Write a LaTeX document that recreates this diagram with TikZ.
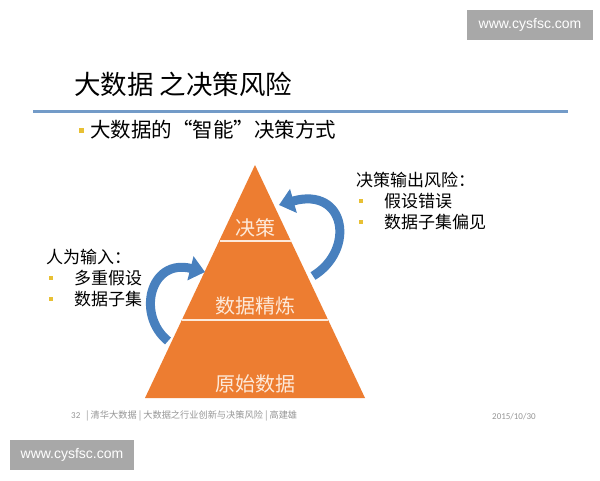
\documentclass[tikz,border=0pt]{standalone}
\usepackage{fontspec}
\newfontfamily\cjk{Noto Sans CJK SC}
\newfontfamily\wmfont{Liberation Sans}
\newfontfamily\numfont{Carlito}
\usetikzlibrary{arrows.meta}
\definecolor{pyrorange}{RGB}{237,125,49}
\definecolor{pyrtext}{RGB}{253,233,217}
\definecolor{titleblue}{RGB}{115,155,200}
\definecolor{bulletyellow}{RGB}{232,192,52}
\definecolor{arrowblue}{RGB}{72,128,190}
\definecolor{footgray}{RGB}{150,150,150}
\definecolor{wmgray}{RGB}{168,168,168}
\tikzset{
  pyrlabel/.style={text=pyrtext, font=\cjk\fontsize{20}{24}\selectfont, inner sep=0pt},
  bodytext/.style={anchor=west, inner sep=0pt, font=\cjk\fontsize{17}{20}\selectfont},
  bulletbox/.style={fill=bulletyellow, minimum size=4pt, inner sep=0pt},
  curvearrow/.style={draw=arrowblue, line width=9pt, -{Triangle[width=24pt,length=15pt]}},
  wmbox/.style={fill=wmgray, text=white, minimum width=126pt, minimum height=30pt, inner sep=0pt, font=\wmfont\fontsize{14}{16}\selectfont},
  sepline/.style={draw=pyrtext, line width=1.2pt}
}
\begin{document}
\begin{tikzpicture}[x=1pt,y=-1pt]
\useasboundingbox[fill=white] (0,0) rectangle (600,480);
% watermarks
\node[wmbox] (wm1) at (530,25) {www.cysfsc.com};
\node[wmbox, minimum width=124pt] (wm2) at (72,455) {www.cysfsc.com};
% title
\node[anchor=west, inner sep=0pt, font=\cjk\fontsize{26.5}{30}\selectfont] (title) at (74,84) {大数据 之决策风险};
\coordinate (tl1) at (33,111);
\coordinate (tl2) at (568,111);
\draw[titleblue, line width=3pt] (tl1) -- (tl2);
% main bullet
\node[bulletbox, minimum size=5pt] (b0) at (81,130) {};
\node[anchor=west, inner sep=0pt, font=\cjk\fontsize{20.5}{24}\selectfont] (sub) at (90,130) {大数据的“智能”决策方式};
% pyramid
\coordinate (apex) at (255,165);
\coordinate (bl) at (145,398);
\coordinate (br) at (365,398);
\fill[pyrorange] (apex) -- (br) -- (bl) -- cycle;
\coordinate (s1l) at (219.5,241);
\coordinate (s1r) at (290.5,241);
\coordinate (s2l) at (182,320);
\coordinate (s2r) at (328,320);
\draw[sepline] (s1l) -- (s1r);
\draw[sepline] (s2l) -- (s2r);
\node[pyrlabel] (p1) at (255,228) {决策};
\node[pyrlabel] (p2) at (255,306) {数据精炼};
\node[pyrlabel] (p3) at (255,384) {原始数据};
% arrows
\coordinate (rt) at (313,276);
\coordinate (rh) at (279,205);
\draw[curvearrow] (rt) .. controls (356,250) and (346,186) .. (rh);
\coordinate (lt) at (168,341);
\coordinate (lh) at (205,272);
\draw[curvearrow] (lt) .. controls (136,315) and (150,258) .. (lh);
% right block
\node[bodytext] (rhead) at (356,180) {决策输出风险：};
\node[bulletbox] (rb1) at (361,201) {};
\node[bodytext] (r1) at (384,201) {假设错误};
\node[bulletbox] (rb2) at (361,222) {};
\node[bodytext] (r2) at (384,222) {数据子集偏见};
% left block
\node[bodytext] (lhead) at (46,257) {人为输入：};
\node[bulletbox] (lb1) at (51,278) {};
\node[bodytext] (l1) at (74,278) {多重假设};
\node[bulletbox] (lb2) at (51,299) {};
\node[bodytext] (l2) at (74,299) {数据子集};
% footer
\node[anchor=west, inner sep=0pt, text=footgray, font=\numfont\fontsize{9}{11}\selectfont] (fnum) at (71,416) {32};
\node[anchor=west, inner sep=0pt, text=footgray, font=\cjk\fontsize{9.2}{11}\selectfont] (ftext) at (86,416) {| 清华大数据 | 大数据之行业创新与决策风险 | 高建雄};
\node[anchor=west, inner sep=0pt, text=footgray, font=\numfont\fontsize{9}{11}\selectfont] (fdate) at (492,417) {2015/10/30};
\end{tikzpicture}
\end{document}
